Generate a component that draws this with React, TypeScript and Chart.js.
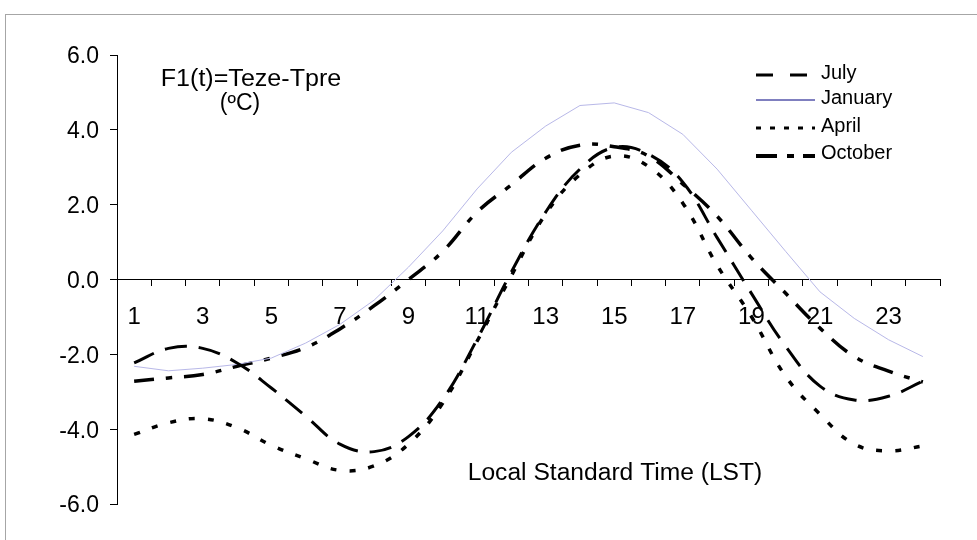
import { useEffect, useRef } from 'react';
import { Chart, registerables } from 'chart.js';

Chart.register(...registerables);

const hours = ['1', '2', '3', '4', '5', '6', '7', '8', '9', '10', '11', '12', '13', '14', '15', '16', '17', '18', '19', '20', '21', '22', '23', '24'];

const july = [-2.23, -1.84, -1.84, -2.23, -2.9, -3.65, -4.4, -4.6, -4.2, -3.2, -1.6, 0.2, 1.8, 2.95, 3.53, 3.35, 2.6, 1.12, -0.37, -1.79, -2.85, -3.22, -3.12, -2.72];
const january = [-2.32, -2.44, -2.37, -2.27, -2.1, -1.7, -1.2, -0.55, 0.33, 1.3, 2.42, 3.4, 4.1, 4.65, 4.72, 4.46, 3.88, 2.95, 1.85, 0.75, -0.33, -1.04, -1.61, -2.06];
const april = [-4.14, -3.83, -3.72, -3.96, -4.43, -4.79, -5.1, -4.98, -4.4, -3.3, -1.65, 0.1, 1.75, 2.8, 3.3, 3.02, 2.04, 0.38, -0.99, -2.59, -3.6, -4.4, -4.58, -4.45];
const october = [-2.72, -2.63, -2.54, -2.32, -2.1, -1.82, -1.32, -0.7, 0.0, 0.75, 1.8, 2.53, 3.24, 3.59, 3.55, 3.3, 2.55, 1.69, 0.58, -0.37, -1.3, -2.06, -2.45, -2.74];

const seriesNames = ['July', 'January', 'April', 'October'];
const yTicks = [-6, -4, -2, 0, 2, 4, 6];

const titleLine1 = 'F1(t)=Teze-Tpre';
const titleLine2 = '(ºC)';
const xTitle = 'Local Standard Time (LST)';

const FONT = '"Liberation Sans", Arial, Helvetica, sans-serif';

export default function App() {
  const ref = useRef<HTMLCanvasElement>(null);

  useEffect(() => {
    const canvas = ref.current;
    if (!canvas) return;

    const legendStyles = [
      { color: '#000', width: 3, dash: [17, 17] },
      { color: '#000080', width: 1, dash: [] as number[] },
      { color: '#000', width: 3, dash: [5, 9] },
      { color: '#000', width: 4, dash: [21, 10, 7, 9] },
    ];

    const drawStretched = (c: CanvasRenderingContext2D, text: string, cx: number, cy: number, sx: number) => {
      c.save();
      c.translate(cx, cy);
      c.scale(sx, 1);
      c.fillText(text, 0, 0);
      c.restore();
    };

    const overlay = {
      id: 'overlay',
      beforeDraw(chart: any) {
        const c = chart.ctx;
        c.save();
        c.fillStyle = '#fff';
        c.fillRect(0, 0, chart.width, chart.height);
        c.strokeStyle = '#a6a6a6';
        c.lineWidth = 1;
        c.strokeRect(5.5, 14.5, chart.width + 20, chart.height + 20);
        c.restore();
      },
      afterDraw(chart: any) {
        const c = chart.ctx;
        c.save();
        c.fillStyle = '#000';
        c.textBaseline = 'middle';
        c.textAlign = 'center';
        c.font = `23px ${FONT}`;
        drawStretched(c, titleLine1, 251, 80, 1.09);
        drawStretched(c, titleLine2, 240, 104, 1.0);
        drawStretched(c, xTitle, 615, 474, 1.07);

        // legend
        const lineY = [75, 100, 128, 156];
        const textY = [73.5, 98, 126, 153];
        c.textAlign = 'left';
        c.font = `20px ${FONT}`;
        chart.data.datasets.forEach((ds: any, i: number) => {
          const st = legendStyles[i];
          c.save();
          c.strokeStyle = st.color;
          c.lineWidth = st.width;
          c.setLineDash(st.dash);
          c.lineCap = 'butt';
          c.beginPath();
          c.moveTo(756, lineY[i]);
          c.lineTo(815, lineY[i]);
          c.stroke();
          c.restore();
          c.fillStyle = '#000';
          c.fillText(ds.label, 821, textY[i]);
        });
        c.restore();
      },
    };

    const chart = new Chart(canvas, {
      type: 'line',
      data: {
        labels: hours,
        datasets: [
          {
            label: seriesNames[0],
            data: july,
            borderColor: '#000',
            borderWidth: 3,
            borderDash: [22, 12],
            tension: 0.4,
            pointRadius: 0,
            fill: false,
          },
          {
            label: seriesNames[1],
            data: january,
            borderColor: '#b8b8e8',
            borderWidth: 1,
            tension: 0,
            pointRadius: 0,
            fill: false,
          },
          {
            label: seriesNames[2],
            data: april,
            borderColor: '#000',
            borderWidth: 3.5,
            borderDash: [6, 13],
            tension: 0.4,
            pointRadius: 0,
            fill: false,
          },
          {
            label: seriesNames[3],
            data: october,
            borderColor: '#000',
            borderWidth: 3.5,
            borderDash: [20, 12, 6, 12],
            tension: 0.4,
            pointRadius: 0,
            fill: false,
          },
        ],
      },
      options: {
        responsive: false,
        animation: false,
        devicePixelRatio: 1,
        layout: { padding: { left: 0, top: 55, right: 37, bottom: 36 } },
        plugins: {
          legend: { display: false },
          tooltip: { enabled: false },
        },
        scales: {
          x: {
            type: 'category',
            position: { y: 0 },
            offset: true,
            grid: {
              offset: true,
              drawOnChartArea: false,
              drawTicks: true,
              tickLength: 6,
              color: '#000',
              lineWidth: 1,
            },
            border: { display: true, color: '#000', width: 1 },
            ticks: {
              autoSkip: false,
              maxRotation: 0,
              minRotation: 0,
              padding: 17,
              color: '#000',
              font: { family: FONT, size: 24 },
              callback: (_v: any, i: number) => (i % 2 === 0 ? hours[i] : ''),
            },
          },
          y: {
            type: 'linear',
            position: 'left',
            min: yTicks[0],
            max: yTicks[yTicks.length - 1],
            afterFit: (scale: any) => {
              scale.width = 117;
            },
            afterBuildTicks: (scale: any) => {
              scale.ticks = yTicks.map((v) => ({ value: v }));
            },
            grid: {
              drawOnChartArea: false,
              drawTicks: true,
              tickLength: 7,
              color: '#000',
              lineWidth: 1,
            },
            border: { display: true, color: '#000', width: 1 },
            ticks: {
              padding: 11,
              labelOffset: 2,
              color: '#000',
              font: { family: FONT, size: 23 },
              callback: (v: any) => Number(v).toFixed(1),
            },
          },
        },
      },
      plugins: [overlay],
    });

    return () => chart.destroy();
  }, []);

  return (
    <div style={{ position: 'fixed', left: 0, top: 0, width: 977, height: 540, background: '#fff' }}>
      <canvas ref={ref} width={977} height={540} style={{ display: 'block', width: 977, height: 540 }} />
    </div>
  );
}
